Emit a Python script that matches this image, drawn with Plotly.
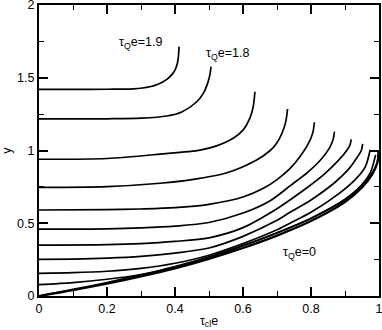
import plotly.graph_objects as go

# tau_Q e = 1.9 (top) ... 0 (bottom); x = tau_cl e, y
x_c1 = [0, 0.1, 0.2, 0.277, 0.326, 0.35, 0.376, 0.39, 0.4, 0.407, 0.41, 0.412]
y_c1 = [1.42, 1.42, 1.421, 1.424, 1.438, 1.455, 1.489, 1.52, 1.553, 1.60, 1.645, 1.714]

x_c2 = [0, 0.1, 0.2, 0.3, 0.376, 0.42, 0.464, 0.485, 0.497, 0.503, 0.506]
y_c2 = [1.217, 1.217, 1.218, 1.222, 1.237, 1.265, 1.335, 1.40, 1.47, 1.525, 1.576]

x_c3 = [0, 0.2, 0.356, 0.474, 0.52, 0.571, 0.60, 0.62, 0.63, 0.635]
y_c3 = [0.94, 0.945, 0.975, 1.003, 1.03, 1.084, 1.14, 1.221, 1.30, 1.404]

x_c4 = [0, 0.2, 0.356, 0.45, 0.55, 0.64, 0.68, 0.699, 0.715, 0.726, 0.731]
y_c4 = [0.747, 0.752, 0.775, 0.80, 0.845, 0.935, 1.0, 1.05, 1.12, 1.20, 1.285]

x_c5 = [0, 0.2, 0.3, 0.4, 0.5, 0.6, 0.66, 0.70, 0.738, 0.77, 0.797, 0.806, 0.81]
y_c5 = [0.591, 0.593, 0.598, 0.607, 0.63, 0.68, 0.74, 0.80, 0.875, 0.965, 1.07, 1.13, 1.194]

x_c6 = [0, 0.2, 0.3, 0.4, 0.5, 0.6, 0.68, 0.74, 0.79, 0.83, 0.855, 0.865, 0.869]
y_c6 = [0.46, 0.462, 0.468, 0.48, 0.505, 0.57, 0.655, 0.76, 0.85, 0.94, 1.02, 1.075, 1.129]

x_c7 = [0, 0.2, 0.3, 0.4, 0.5, 0.6, 0.7, 0.738, 0.78, 0.84, 0.88, 0.905, 0.915, 0.918]
y_c7 = [0.35, 0.353, 0.36, 0.375, 0.40, 0.47, 0.60, 0.66, 0.73, 0.84, 0.93, 1.0, 1.04, 1.077]

x_c8 = [0, 0.1, 0.2, 0.3, 0.4, 0.5, 0.6, 0.7, 0.738, 0.8, 0.87, 0.91, 0.935, 0.948, 0.952]
y_c8 = [0.252, 0.254, 0.26, 0.272, 0.295, 0.33, 0.41, 0.52, 0.575, 0.66, 0.78, 0.87, 0.95, 1.0, 1.045]

x_c9 = [0, 0.1, 0.2, 0.3, 0.4, 0.5, 0.6, 0.7, 0.738, 0.8, 0.88, 0.93, 0.96, 0.974]
y_c9 = [0.156, 0.16, 0.17, 0.19, 0.225, 0.28, 0.36, 0.455, 0.50, 0.575, 0.70, 0.80, 0.89, 1.005]

x_c10 = [0, 0.1, 0.2, 0.3, 0.4, 0.5, 0.6, 0.7, 0.8, 0.9, 0.95, 0.975, 0.99]
y_c10 = [0.078, 0.092, 0.115, 0.148, 0.195, 0.26, 0.345, 0.435, 0.535, 0.665, 0.765, 0.85, 0.97]

x_c11 = [0, 0.1, 0.2, 0.3, 0.4, 0.5, 0.6, 0.7, 0.8, 0.9, 0.95, 0.98, 0.995, 0.998]
y_c11 = [0, 0.045, 0.093, 0.145, 0.203, 0.27, 0.347, 0.433, 0.533, 0.66, 0.757, 0.845, 0.92, 1.0]

x_c12 = [0, 0.1, 0.2, 0.3, 0.4, 0.5, 0.6, 0.7, 0.8, 0.9, 0.95, 0.98, 0.995, 1.0]
y_c12 = [0, 0.04, 0.085, 0.135, 0.19, 0.255, 0.33, 0.415, 0.515, 0.645, 0.745, 0.835, 0.915, 1.0]

curves = [(x_c1, y_c1), (x_c2, y_c2), (x_c3, y_c3), (x_c4, y_c4), (x_c5, y_c5),
          (x_c6, y_c6), (x_c7, y_c7), (x_c8, y_c8), (x_c9, y_c9), (x_c10, y_c10),
          (x_c11, y_c11), (x_c12, y_c12)]

x_ticks = [0, 0.2, 0.4, 0.6, 0.8, 1]
x_ticktext = ["0", "0.2", "0.4", "0.6", "0.8", "1"]
y_ticks = [0, 0.5, 1, 1.5, 2]
y_ticktext = ["0", "0.5", "1", "1.5", "2"]

labels = ["τ<sub>Q</sub>e=1.9", "τ<sub>Q</sub>e=1.8", "τ<sub>Q</sub>e=0"]
label_x = [0.233, 0.488, 0.716]
label_y = [1.737, 1.663, 0.299]

FONT = "Liberation Sans, Arial, Helvetica, sans-serif"

fig = go.Figure()
for i, (xs, ys) in enumerate(curves):
    fig.add_trace(go.Scatter(x=xs, y=ys, mode="lines",
                             line=dict(color="black", width=2.2 if i == 11 else 1.7,
                                       shape="spline", smoothing=0.8),
                             hoverinfo="skip", showlegend=False, cliponaxis=False))

for t, lx, ly in zip(labels, label_x, label_y):
    fig.add_annotation(x=lx, y=ly, text=t, showarrow=False, xanchor="left",
                       yanchor="middle", borderpad=0,
                       font=dict(family=FONT, size=12.5, color="black"))

axis_common = dict(showline=True, linecolor="black", linewidth=2, mirror="allticks",
                   ticks="inside", ticklen=9, tickwidth=1.6, tickcolor="black",
                   showgrid=False, zeroline=False, automargin=False,
                   ticklabeloverflow="allow",
                   tickfont=dict(family=FONT, size=12.5, color="black"))

fig.update_xaxes(range=[0, 1], tickvals=x_ticks, ticktext=x_ticktext,
                 minor=dict(ticks="inside", ticklen=5, tickwidth=1.4, tickcolor="black", dtick=0.1, showgrid=False),
                 title=dict(text="τ<sub>cl</sub>e", font=dict(family=FONT, size=12.5, color="black"), standoff=1),
                 **axis_common)
fig.update_yaxes(range=[0, 2], tickvals=y_ticks, ticktext=y_ticktext,
                 minor=dict(ticks="inside", ticklen=5, tickwidth=1.4, tickcolor="black", dtick=0.25, showgrid=False),
                 title=dict(text="y", font=dict(family=FONT, size=12.5, color="black"), standoff=8),
                 **axis_common)

fig.update_layout(width=382, height=330, margin=dict(l=39, r=3, t=5, b=34),
                  paper_bgcolor="white", plot_bgcolor="white")
fig.write_html("out.html", config={"displayModeBar": False},
               post_script="document.body.style.margin='0';document.body.style.overflow='hidden';")
